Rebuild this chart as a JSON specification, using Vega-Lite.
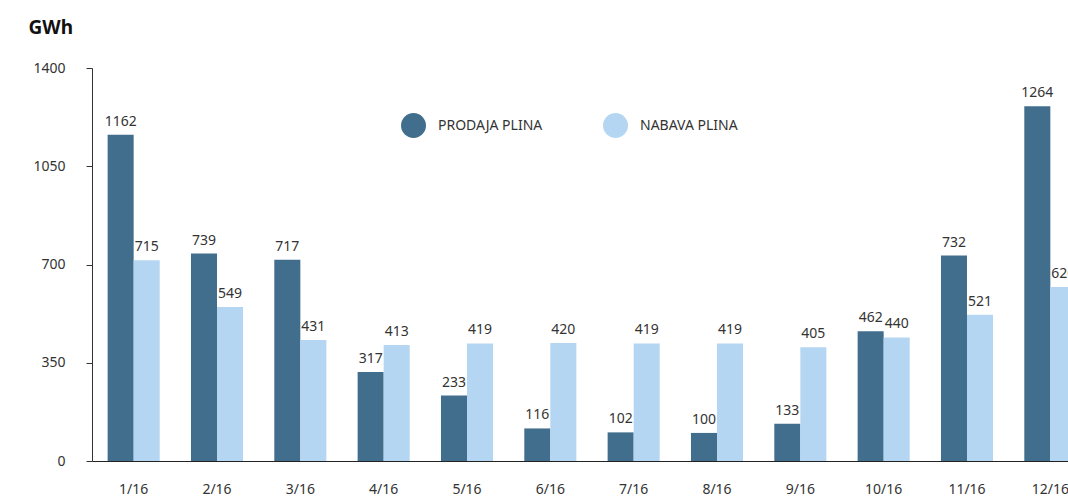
{
  "$schema": "https://vega.github.io/schema/vega-lite/v6.json",
  "autosize": {"type": "none"},
  "width": 976,
  "height": 393,
  "padding": {"left": 92, "top": 68, "right": 0, "bottom": 38},
  "background": "white",
  "config": {
    "view": {"stroke": null},
    "font": "Noto Sans",
    "text": {"font": "Noto Sans"}
  },
  "data": {
    "values": [
      {"mjesec": "1/16", "serija": "PRODAJA PLINA", "gwh": 1162},
      {"mjesec": "1/16", "serija": "NABAVA PLINA", "gwh": 715},
      {"mjesec": "2/16", "serija": "PRODAJA PLINA", "gwh": 739},
      {"mjesec": "2/16", "serija": "NABAVA PLINA", "gwh": 549},
      {"mjesec": "3/16", "serija": "PRODAJA PLINA", "gwh": 717},
      {"mjesec": "3/16", "serija": "NABAVA PLINA", "gwh": 431},
      {"mjesec": "4/16", "serija": "PRODAJA PLINA", "gwh": 317},
      {"mjesec": "4/16", "serija": "NABAVA PLINA", "gwh": 413},
      {"mjesec": "5/16", "serija": "PRODAJA PLINA", "gwh": 233},
      {"mjesec": "5/16", "serija": "NABAVA PLINA", "gwh": 419},
      {"mjesec": "6/16", "serija": "PRODAJA PLINA", "gwh": 116},
      {"mjesec": "6/16", "serija": "NABAVA PLINA", "gwh": 420},
      {"mjesec": "7/16", "serija": "PRODAJA PLINA", "gwh": 102},
      {"mjesec": "7/16", "serija": "NABAVA PLINA", "gwh": 419},
      {"mjesec": "8/16", "serija": "PRODAJA PLINA", "gwh": 100},
      {"mjesec": "8/16", "serija": "NABAVA PLINA", "gwh": 419},
      {"mjesec": "9/16", "serija": "PRODAJA PLINA", "gwh": 133},
      {"mjesec": "9/16", "serija": "NABAVA PLINA", "gwh": 405},
      {"mjesec": "10/16", "serija": "PRODAJA PLINA", "gwh": 462},
      {"mjesec": "10/16", "serija": "NABAVA PLINA", "gwh": 440},
      {"mjesec": "11/16", "serija": "PRODAJA PLINA", "gwh": 732},
      {"mjesec": "11/16", "serija": "NABAVA PLINA", "gwh": 521},
      {"mjesec": "12/16", "serija": "PRODAJA PLINA", "gwh": 1264},
      {"mjesec": "12/16", "serija": "NABAVA PLINA", "gwh": 620}
    ]
  },
  "encoding": {
    "x": {
      "field": "mjesec",
      "type": "nominal",
      "sort": null,
      "scale": {"range": [0, 1000], "paddingInner": 0.375, "paddingOuter": 0.1875},
      "axis": {
        "title": null,
        "labelAngle": 0,
        "ticks": false,
        "tickSize": 0,
        "labelPadding": 21,
        "labelFontSize": 14,
        "labelColor": "#333333",
        "domainColor": "#222222",
        "domainWidth": 1.2
      }
    },
    "xOffset": {
      "field": "serija",
      "type": "nominal",
      "scale": {"domain": ["PRODAJA PLINA", "NABAVA PLINA"], "paddingInner": 0, "paddingOuter": 0}
    },
    "y": {
      "field": "gwh",
      "type": "quantitative",
      "scale": {"domain": [0, 1400], "nice": false},
      "axis": {
        "values": [0, 350, 700, 1050, 1400],
        "format": "d",
        "grid": false,
        "title": "GWh",
        "titleAngle": 0,
        "titleAlign": "left",
        "titleBaseline": "alphabetic",
        "titleX": -64,
        "titleY": -35,
        "titleFontSize": 19,
        "titleFontWeight": "bold",
        "titleColor": "#111111",
        "tickSize": 6,
        "tickColor": "#333333",
        "domainColor": "#333333",
        "labelPadding": 21,
        "labelFontSize": 14,
        "labelColor": "#333333"
      }
    }
  },
  "layer": [
    {
      "mark": {"type": "bar"},
      "encoding": {
        "color": {
          "field": "serija",
          "type": "nominal",
          "scale": {"domain": ["PRODAJA PLINA", "NABAVA PLINA"], "range": ["#426e8e", "#b5d6f2"]},
          "legend": {
            "title": null,
            "orient": "none",
            "direction": "horizontal",
            "legendX": 309,
            "legendY": 45,
            "symbolType": "circle",
            "symbolSize": 625,
            "symbolStrokeWidth": 0,
            "labelFontSize": 14,
            "labelColor": "#333333",
            "labelOffset": 12,
            "columnPadding": 60
          }
        }
      }
    },
    {
      "mark": {"type": "text", "baseline": "bottom", "dy": -6, "fontSize": 14, "color": "#333333"},
      "encoding": {
        "text": {"field": "gwh", "type": "quantitative"}
      }
    }
  ]
}
